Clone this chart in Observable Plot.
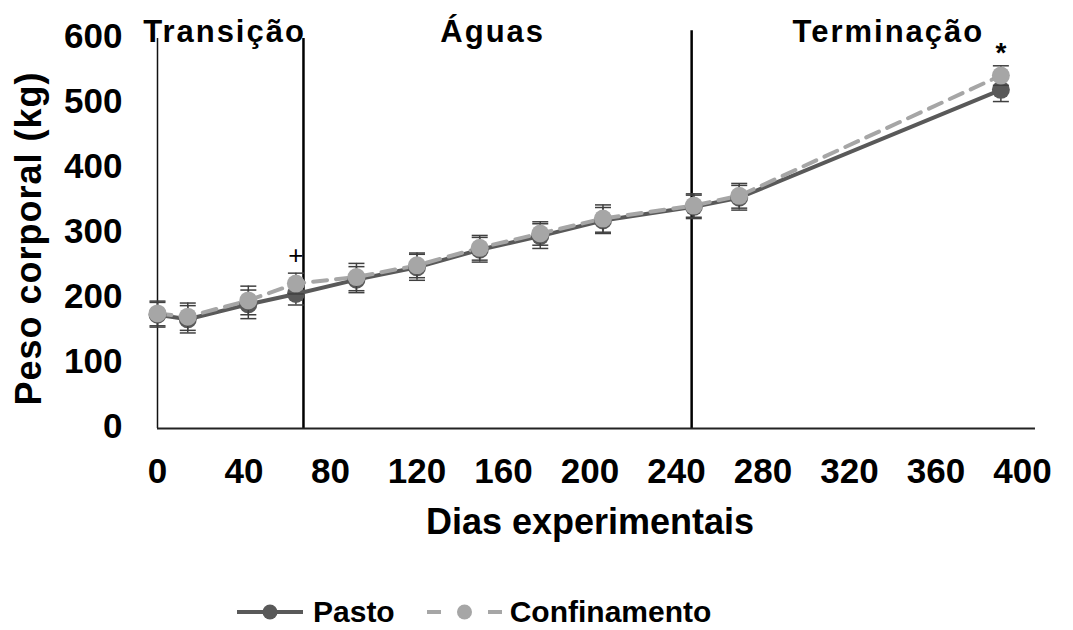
<!DOCTYPE html>
<html><head><meta charset="utf-8">
<script src="https://cdn.jsdelivr.net/npm/d3@7"></script>
<script src="https://cdn.jsdelivr.net/npm/@observablehq/plot@0.6"></script>
<style>
body{margin:0;background:#fff;font-family:"Liberation Sans",Arial,sans-serif;}
#chart svg{display:block;}
#legend{display:flex;align-items:center;height:48px;padding-left:237px;font-weight:bold;font-size:30px;color:#000;font-family:"Liberation Sans",Arial,sans-serif;}
#legend svg{display:block;}
</style></head><body>
<div id="chart"></div>
<div id="legend"></div>
<script>
// ---- data ----
const days = [0, 14, 42, 64, 92, 120, 149, 177, 206, 248, 269, 390];
const pasto = [175, 168, 191, 207, 229, 248, 275, 296, 320, 341, 355, 521];
const confinamento = [177, 172, 197, 223, 233, 251, 278, 300, 323, 343, 358, 543];
const pastoSE = [19, 21, 22, 17, 20, 20, 19, 19, 20, 18, 19, 18];
const confinamentoSE = [19, 21, 22, 16, 21, 19, 19, 18, 21, 18, 19, 15];
const seriesNames = ["Pasto", "Confinamento"];
const xTicks = [0, 40, 80, 120, 160, 200, 240, 280, 320, 360, 400];
const yTicks = [0, 100, 200, 300, 400, 500, 600];
const phaseBounds = [67.5, 247];
const phaseBoundTops = [600, 612];
const phaseLabels = ["Transição", "Águas", "Terminação"];
const phaseLabelDays = [31, 155, 338];
const sigDays = [64, 390];
const sigValues = [266, 578];
const sigLabels = ["+", "*"];
const xTitle = "Dias experimentais";
const yTitle = "Peso corporal (kg)";
const axisEnd = 406;

const rows = days.map((d, i) => ({day: d, pasto: pasto[i], conf: confinamento[i], pse: pastoSE[i], cse: confinamentoSE[i]}));
const phases = phaseBounds.map((b, i) => ({x: b, top: phaseBoundTops[i]}));
const heads = phaseLabels.map((t, i) => ({t, x: phaseLabelDays[i]}));
const sigs = sigLabels.map((t, i) => ({t, x: sigDays[i], y: sigValues[i]}));

const dark = "#595959", light = "#a6a6a6", errC = "#404040";
const cap = {draw(c) { c.moveTo(-8, 0); c.lineTo(8, 0); }};
const FONT = "Liberation Sans, Arial, sans-serif";

const chart = Plot.plot({
  width: 1073, height: 588,
  marginLeft: 157, marginRight: 51, marginTop: 38, marginBottom: 160,
  style: {fontFamily: FONT, fontWeight: "bold", fontSize: "35px", color: "#000", background: "#fff"},
  x: {domain: [0, 400]},
  y: {domain: [0, 600]},
  marks: [
    Plot.axisX({ticks: xTicks, tickSize: 0, tickPadding: 30, label: null, fontSize: 35, fontWeight: "bold", fontFamily: FONT, fill: "#000"}),
    Plot.axisY({ticks: yTicks, tickSize: 0, tickPadding: 35, label: null, fontSize: 35, fontWeight: "bold", fontFamily: FONT, fill: "#000", dy: -2}),
    Plot.ruleX([0], {y1: 0, y2: 600, stroke: "#111", strokeWidth: 1.5}),
    Plot.ruleX(phases, {x: "x", y1: 0, y2: "top", stroke: "#000", strokeWidth: 2.5}),
    Plot.ruleY([0], {x1: 0, x2: axisEnd, stroke: "#222", strokeWidth: 2}),
    Plot.line(rows, {x: "day", y: "pasto", stroke: dark, strokeWidth: 4}),
    Plot.line(rows, {x: "day", y: "conf", stroke: light, strokeWidth: 4, strokeDasharray: "14,9"}),
    Plot.ruleX(rows, {x: "day", y1: d => d.pasto - d.pse, y2: d => d.pasto + d.pse, stroke: errC, strokeWidth: 1.5}),
    Plot.dot(rows, {x: "day", y: d => d.pasto - d.pse, symbol: cap, stroke: errC, strokeWidth: 1.5}),
    Plot.dot(rows, {x: "day", y: d => d.pasto + d.pse, symbol: cap, stroke: errC, strokeWidth: 1.5}),
    Plot.dot(rows, {x: "day", y: "pasto", r: 9, fill: dark}),
    Plot.ruleX(rows, {x: "day", y1: d => d.conf - d.cse, y2: d => d.conf + d.cse, stroke: errC, strokeWidth: 1.5}),
    Plot.dot(rows, {x: "day", y: d => d.conf - d.cse, symbol: cap, stroke: errC, strokeWidth: 1.5}),
    Plot.dot(rows, {x: "day", y: d => d.conf + d.cse, symbol: cap, stroke: errC, strokeWidth: 1.5}),
    Plot.dot(rows, {x: "day", y: "conf", r: 9, fill: light}),
    Plot.text(heads, {x: "x", y: 600, text: "t", dy: -6, lineAnchor: "middle", fontSize: 31, fontWeight: "bold", fill: "#000"}),
    Plot.text(sigs.filter(s => s.t === "+"), {x: "x", y: "y", text: "t", fontSize: 26, fontWeight: "normal", fill: "#000"}),
    Plot.text(sigs.filter(s => s.t === "*"), {x: "x", y: "y", text: "t", fontSize: 28, fontWeight: "bold", fill: "#000"}),
    Plot.text([xTitle], {frameAnchor: "bottom", lineAnchor: "top", dy: 80, text: d => d, fontSize: 36, fontWeight: "bold", fill: "#000"}),
    Plot.text([yTitle], {frameAnchor: "left", rotate: -90, textAnchor: "middle", lineAnchor: "top", dx: -142, dy: 5, text: d => d, fontSize: 36, fontWeight: "bold", fill: "#000"})
  ]
});
document.getElementById("chart").appendChild(chart);
chart.querySelectorAll("text").forEach(t => {
  const s = t.textContent;
  if (phaseLabels.includes(s)) t.style.letterSpacing = "2px";
  if (s === yTitle) t.style.letterSpacing = "1px";
});

// legend
const lg = d3.select("#legend");
seriesNames.forEach((name, i) => {
  const w = i === 0 ? 66 : 75;
  const s = lg.append("svg").attr("width", w).attr("height", 24).style("margin-left", i === 0 ? "0px" : "32px");
  if (i === 0) {
    s.append("line").attr("x1", 0).attr("x2", w).attr("y1", 12).attr("y2", 12).attr("stroke", dark).attr("stroke-width", 4);
  } else {
    s.append("line").attr("x1", 0).attr("x2", 14).attr("y1", 12).attr("y2", 12).attr("stroke", light).attr("stroke-width", 4);
    s.append("line").attr("x1", w - 14).attr("x2", w).attr("y1", 12).attr("y2", 12).attr("stroke", light).attr("stroke-width", 4);
  }
  s.append("circle").attr("cx", w / 2).attr("cy", 12).attr("r", 7.5).attr("fill", i === 0 ? dark : light);
  lg.append("span").style("margin-left", i === 0 ? "10px" : "8px").text(name);
});
</script>
</body></html>
